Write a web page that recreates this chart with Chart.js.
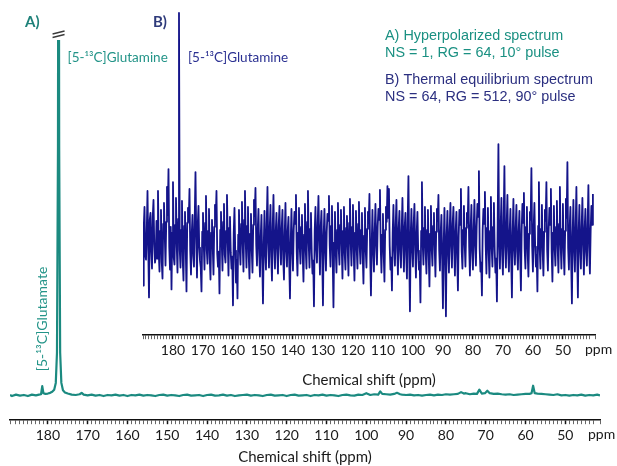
<!DOCTYPE html>
<html>
<head>
<meta charset="utf-8">
<script src="https://cdn.jsdelivr.net/npm/chart.js@4.4.1/dist/chart.umd.min.js"></script>
<style>
  html, body { margin: 0; padding: 0; background: #fff; }
  #wrap { position: relative; width: 617px; height: 466px; }
  #chartA { position: absolute; left: 0; top: 0; }
  #chartB { position: absolute; left: 130px; top: 0; }
</style>
</head>
<body>
<div id="wrap">
  <canvas id="chartA" width="617" height="466"></canvas>
  <canvas id="chartB" width="487" height="389"></canvas>
</div>
<script>
// Tick labels shown on both shift axes (ppm)
const ppmTicks = [180, 170, 160, 150, 140, 130, 120, 110, 100, 90, 80, 70, 60, 50];

// A) hyperpolarized spectrum: chemical shift (ppm) and intensity (a.u.)
const aShift = [
  189.5, 189, 188, 187, 186, 185, 184, 183, 182.2, 181.7,
  181.4, 181.1, 180.6, 180, 179.4, 178.9, 178.4, 178.0, 177.7, 177.45,
  177.3, 177.15, 176.9, 176.6, 176.2, 175.7, 175, 174, 173, 172,
  171.5, 171, 170, 169, 168, 167, 166, 165, 164, 163,
  162, 161, 160, 159, 158, 157, 156, 155, 154, 153,
  152, 151, 150, 149, 148, 147, 146, 145, 144, 143,
  142, 141, 140, 139, 138, 137, 136, 135, 134, 133,
  132, 131, 130, 129, 128, 127, 126, 125, 124, 123,
  122, 121, 120, 119, 118, 117, 116, 115, 114, 113,
  112, 111, 110, 109, 108, 107, 106, 105, 104, 103,
  102, 101, 100, 99, 98, 97, 96.5, 96, 95, 94,
  93, 92.3, 91.5, 91, 90, 89, 88, 87, 86, 85,
  84, 83, 82, 81, 80, 79, 78, 77, 76.2, 75.5,
  75, 74, 73, 72.2, 71.6, 71, 70.2, 69.6, 69, 68,
  67, 66, 65, 64, 63, 62, 61, 60, 59, 58.5,
  58.1, 57.7, 57, 56, 55, 54, 53, 52, 51, 50,
  49, 48, 47, 46, 45, 44, 43, 42, 41.3
];
const aIntensity = [
  0.1, -0.2, 0.2, -0.1, 0.1, -0.2, 0.2, 0.0, 0.2, 0.3,
  2.6, 0.6, 0.4, 0.5, 0.7, 1.0, 1.6, 3.5, 12, 70,
  200, 70, 12, 3.5, 1.4, 0.8, 0.5, 0.2, 0.1, 0.3,
  0.7, 0.2, 0.0, 0.2, -0.1, 0.1, -0.2, 0.1, 0.0, 0.2,
  -0.1, 0.1, -0.2, 0.1, 0.0, 0.2, -0.1, 0.1, 0.0, -0.2,
  0.1, 0.2, -0.1, 0.1, 0.0, -0.2, 0.1, 0.2, -0.1, 0.0,
  0.1, -0.2, 0.1, 0.2, -0.1, 0.0, 0.2, -0.1, 0.1, -0.2,
  0.0, 0.1, 0.2, -0.1, 0.1, 0.0, -0.2, 0.1, 0.2, -0.1,
  0.0, 0.1, -0.2, 0.1, 0.2, -0.1, 0.0, 0.1, -0.2, 0.1,
  0.0, 0.2, -0.1, 0.1, 0.0, -0.2, 0.1, 0.2, 0.0, -0.1,
  0.2, 0.1, 0.6, 0.1, 0.3, 0.2, 1.1, 0.4, 0.3, 0.2,
  0.4, 0.7, 0.3, 0.2, 0.1, 0.2, 0.0, 0.1, -0.1, 0.1,
  0.2, 0.0, 0.2, 0.1, 0.3, 0.2, 0.3, 0.4, 0.9, 0.5,
  0.6, 0.3, 0.5, 0.4, 1.6, 0.5, 0.6, 1.3, 0.6, 0.4,
  0.5, 0.3, 0.2, 0.3, 0.1, 0.2, 0.3, 0.4, 0.4, 0.6,
  2.7, 0.6, 0.5, 0.4, 0.3, 0.2, 0.1, 0.3, 0.0, 0.1,
  -0.1, 0.1, 0.0, 0.2, -0.1, 0.1, 0.0, 0.2, 0.0
];

// B) thermal equilibrium spectrum, sampled every 0.25 ppm from 190 ppm down to 40 ppm
const bStart = 190;
const bStep = 0.25;
const bIntensity = [
  -4.7, 1.1, 3.2, -1.6, -2.1, 0.7, 4.8, -0.9, -5.9, 1.9, 2.6, -1.3, -3.0, 2.2, 3.9, -0.6, -2.4, -1.8, 1.8, -2.0,
  4.8, -1.4, -3.3, 0.8, 2.9, -2.3, -4.0, 1.5, 3.6, 0.4, -2.7, 1.7, 5.2, 2.4, 7.0, -0.8, -3.1, 1.2, -5.1, 0.6,
  5.7, -1.9, -2.6, 1.4, 4.1, -0.7, -3.4, 2.0, 22.7, -1.1, -2.9, 0.9, 3.8, -2.2, -4.2, 1.3, 2.7, -1.0, -5.3, 1.6,
  3.1, 1.8, 5.0, -1.2, -3.6, 0.5, 2.4, -1.7, -2.8, 2.1, 6.7, 0.3, -3.9, 1.4, 3.3, -0.9, -2.2, -2.9, -5.3, 0.7,
  2.6, -0.5, -3.1, 1.6, 4.3, -1.1, -2.5, 0.8, 3.0, -1.9, -4.1, 0.6, 1.9, -0.8, -3.6, 1.2, 3.4, 2.0, 4.8, -1.5,
  -2.8, -1.3, -5.5, 0.9, 2.7, -0.4, -3.2, 1.7, 3.5, -1.6, -2.4, 0.8, 4.4, -0.2, -3.7, 1.1, 2.2, -1.4, -3.0, -1.8,
  -6.7, 0.6, 3.1, -1.2, -4.4, -2.1, -6.0, 0.4, 2.9, -1.0, -2.6, 1.5, 3.7, -0.7, -3.3, 1.9, 4.8, -0.3, -2.9, 1.3,
  3.2, -1.7, -4.0, 0.5, 2.5, -1.1, -3.4, 1.4, 3.9, 2.3, 5.1, -0.6, -2.7, 0.9, 3.0, -1.5, -3.8, 0.2, 2.4, -2.0,
  -6.5, -0.8, 2.8, -1.3, -3.1, 1.6, 5.2, -0.4, -2.9, 1.0, 3.4, -1.8, -4.2, 1.2, 4.4, -0.9, -3.0, 0.7, 2.6, -1.1,
  -3.5, 1.4, 3.3, -0.6, -2.6, 1.1, 2.9, -1.9, -4.1, 0.5, 3.6, -1.2, -2.8, 0.8, 2.2, -2.4, -6.0, -0.3, 3.0, -1.0,
  -3.2, 0.9, 2.7, 1.5, 4.4, -1.3, -3.7, 0.6, 3.1, -0.8, -2.5, 1.2, 2.4, -1.6, -4.3, 0.4, 3.5, -1.1, -3.0, 1.7,
  4.8, -0.5, -2.9, 1.0, 2.6, -1.4, -3.5, -2.2, -6.8, 0.8, 3.2, -0.9, -2.4, 1.6, 4.3, -0.3, -3.6, 1.2, 2.8, -1.7,
  -6.7, 0.5, 3.0, -1.1, -3.2, 0.7, 2.5, 1.8, 4.3, -0.6, -2.8, 1.3, 3.3, -2.0, -6.9, -0.4, 2.7, -1.2, -3.4, 0.9,
  3.6, -1.0, -2.6, 1.4, 2.9, -0.7, -4.0, 0.8, 3.2, -1.5, -3.1, 1.1, 2.3, -0.9, -3.7, 1.6, 4.0, -0.4, -2.7, 1.2,
  3.4, -1.3, -4.2, 0.6, 2.8, -1.0, -3.0, 1.5, 3.7, -0.8, -2.5, 0.9, 2.6, -1.7, -4.5, 0.3, 3.1, -1.1, -2.9, 1.0,
  2.7, 1.6, 4.5, -1.8, -5.7, -0.5, 2.9, -1.2, -3.3, 0.7, 3.5, -0.6, -2.6, 1.3, 3.0, 1.9, 4.9, -0.8, -3.4, 0.4,
  2.5, -1.5, -4.3, 0.9, 3.2, 1.7, 5.3, 2.1, 5.0, -0.7, -3.1, -1.9, -5.2, 0.6, 3.4, -1.0, -2.7, 1.4, 3.9, -0.9,
  -3.6, 1.1, 2.8, -1.3, -2.9, 0.8, 4.1, -0.5, -3.3, 1.2, 2.6, -1.6, -4.0, 1.9, 6.3, -1.4, -7.3, 0.3, 3.0, -1.0,
  -2.8, 1.5, 3.5, -0.9, -3.9, 0.6, 2.7, -1.2, -3.1, -2.3, -6.4, 0.8, 5.7, -0.4, -2.6, 1.1, 3.2, -1.4, -3.5, 0.9,
  2.9, -1.6, -4.8, 0.5, 3.3, -1.0, -2.7, 1.3, 2.6, -0.8, -3.8, 0.7, 3.0, 1.8, 4.4, -1.1, -3.2, 0.6, 2.4, -2.1,
  -7.0, -0.6, 3.1, -1.9, -7.8, 0.4, 2.8, -1.3, -3.4, 1.0, 3.6, -0.7, -2.9, 1.5, 3.2, -0.9, -3.7, 0.8, 2.7, -1.8,
  -5.2, 0.3, 2.9, 1.4, 5.0, -1.2, -3.0, 0.9, 3.3, -0.5, -2.8, 1.1, 2.6, 1.6, 5.2, -0.8, -3.7, 1.2, 3.4, -1.4,
  -3.1, 1.0, 3.9, -0.7, -2.7, 1.3, 3.5, 2.2, 6.8, -1.0, -3.3, -2.4, -5.7, 0.9, 3.0, 1.5, 4.7, -0.6, -3.5, 1.1,
  3.1, -1.4, -3.9, 0.8, 4.2, -0.9, -2.8, 1.2, 3.6, -1.1, -3.4, -2.0, -6.3, 1.7, 9.5, -0.5, -3.0, 1.3, 4.1, -1.6,
  -3.6, 2.0, 7.3, -0.8, -2.9, 1.4, 4.4, -1.2, -3.3, 0.7, 3.0, -1.9, -5.9, 0.6, 4.0, -0.9, -2.6, 1.1, 3.4, -1.3,
  -3.1, 0.8, 2.8, -1.7, -5.2, 0.9, 3.5, 1.6, 4.6, -1.0, -3.0, 1.2, 3.2, -1.4, -3.8, 0.5, 2.7, 1.9, 7.1, -0.7,
  -3.3, 1.1, 3.6, -0.8, -2.8, -1.6, -5.3, 1.3, 5.7, -0.9, -3.0, 1.0, 3.4, -1.2, -3.7, 0.7, 2.9, 1.8, 5.7, -1.1,
  -3.2, 0.9, 3.1, 1.4, 5.0, -1.3, -4.3, 0.6, 3.3, -1.0, -2.7, 1.2, 3.8, -0.8, -3.4, 1.5, 5.2, -0.6, -3.0, 1.0,
  3.5, -1.2, -3.6, 0.8, 4.0, 2.1, 7.7, -0.9, -3.1, 1.1, 3.2, -2.2, -6.5, 0.5, 3.9, -1.0, -3.3, 1.3, 5.2, -1.5,
  -5.9, 0.7, 3.4, -1.1, -3.0, 1.2, 4.1, -0.6, -3.6, 1.0, 3.0, -1.3, -2.7, 1.6, 5.4, -0.9, -3.5, 0.8, 3.3, 1.4, 4.5
];

// peak positions used to anchor the labels
const glnShiftA = 177.3;
const glnShiftB = 178;
const gluShiftA = 181.4;

const teal = '#1b8a80';
const tealText = '#239488';
const navy = '#14148a';
const navyText = '#2b2f80';

Chart.defaults.font.family = "Lato, 'Open Sans', sans-serif";
Chart.defaults.color = '#222';

function shiftAxis(min, max, title, titlePad) {
  return {
    type: 'linear',
    reverse: true,
    min: min,
    max: max,
    border: { display: true, color: '#111', width: 1.5 },
    grid: {
      drawOnChartArea: false,
      drawTicks: true,
      tickLength: 4,
      tickColor: ctx => ppmTicks.includes(ctx.tick.value) ? '#111' : '#666',
      tickWidth: ctx => ppmTicks.includes(ctx.tick.value) ? 1.5 : 1
    },
    ticks: {
      stepSize: 1,
      autoSkip: false,
      maxRotation: 0,
      minRotation: 0,
      padding: 3,
      color: '#1a1a1a',
      font: { size: 14 },
      callback: v => ppmTicks.includes(v) ? String(v) : ''
    },
    title: {
      display: true,
      text: title,
      color: '#1a1a1a',
      font: { size: 15 },
      padding: { top: titlePad, bottom: 0 }
    }
  };
}

function drawPpm(chart, dx) {
  const { ctx, chartArea } = chart;
  ctx.save();
  ctx.font = "14px Lato, 'Open Sans', sans-serif";
  ctx.fillStyle = '#1a1a1a';
  ctx.textAlign = 'left';
  ctx.textBaseline = 'top';
  ctx.fillText('ppm', chartArea.right - dx, chartArea.bottom + 7);
  ctx.restore();
}

const annotateA = {
  id: 'annotateA',
  afterDraw(chart) {
    const { ctx, chartArea, scales } = chart;
    const px = scales.x.getPixelForValue(glnShiftA);
    const top = chartArea.top;
    ctx.save();
    // break marks on the truncated peak
    ctx.strokeStyle = '#3a3a3a';
    ctx.lineWidth = 1.4;
    ctx.beginPath();
    ctx.moveTo(px - 6, top - 6); ctx.lineTo(px + 6, top - 9);
    ctx.moveTo(px - 6, top - 2.5); ctx.lineTo(px + 6, top - 5.5);
    ctx.stroke();

    ctx.textBaseline = 'middle';
    ctx.fillStyle = '#1e8179';
    ctx.font = "bold 15px Lato, sans-serif";
    ctx.textAlign = 'left';
    ctx.fillText('A)', 25, 22);

    ctx.fillStyle = tealText;
    ctx.font = "13.5px Lato, sans-serif";
    ctx.fillText('[5-\u00b9\u00b3C]Glutamine', px + 9, 58);

    // rotated glutamate label
    const gx = scales.x.getPixelForValue(gluShiftA);
    ctx.save();
    ctx.translate(gx, 319);
    ctx.rotate(-Math.PI / 2);
    ctx.textAlign = 'center';
    ctx.font = "14px Lato, sans-serif";
    ctx.fillText('[5-\u00b9\u00b3C]Glutamate', 0, 0);
    ctx.restore();

    // acquisition notes
    ctx.font = "14.4px 'Liberation Sans', Arial, sans-serif";
    ctx.textAlign = 'left';
    ctx.fillStyle = '#1a9082';
    ctx.fillText('A) Hyperpolarized spectrum', 385, 36);
    ctx.fillText('NS = 1, RG = 64, 10\u00b0 pulse', 385, 53);
    ctx.fillStyle = navyText;
    ctx.fillText('B) Thermal equilibrium spectrum', 385, 80);
    ctx.fillText('NS = 64, RG = 512, 90\u00b0 pulse', 385, 97);
    ctx.restore();

    drawPpm(chart, 12);
  }
};

const annotateB = {
  id: 'annotateB',
  afterDraw(chart) {
    const { ctx, scales } = chart;
    const px = scales.x.getPixelForValue(glnShiftB);
    ctx.save();
    ctx.textBaseline = 'middle';
    ctx.textAlign = 'left';
    ctx.fillStyle = '#2e3a7a';
    ctx.font = "bold 15px Lato, sans-serif";
    ctx.fillText('B)', px - 26, 22);
    ctx.fillStyle = '#2b3192';
    ctx.font = "13.5px Lato, sans-serif";
    ctx.fillText('[5-\u00b9\u00b3C]Glutamine', px + 9, 58);
    ctx.restore();

    drawPpm(chart, 10);
  }
};

new Chart(document.getElementById('chartA'), {
  type: 'line',
  data: {
    datasets: [{
      data: aShift.map((s, i) => ({ x: s, y: aIntensity[i] })),
      borderColor: teal,
      borderWidth: 2.2,
      pointRadius: 0,
      tension: 0,
      fill: false,
      borderJoinStyle: 'round'
    }]
  },
  options: {
    responsive: false,
    animation: false,
    events: [],
    layout: { padding: { left: 10, right: 17, top: 40, bottom: 0 } },
    plugins: { legend: { display: false }, tooltip: { enabled: false } },
    scales: {
      x: shiftAxis(41.3, 189.5, 'Chemical shift (ppm)', 1),
      y: { display: false, min: -7, max: 100 }
    }
  },
  plugins: [annotateA]
});

new Chart(document.getElementById('chartB'), {
  type: 'line',
  data: {
    datasets: [{
      data: bIntensity.map((v, i) => ({ x: bStart - bStep * i, y: v })),
      borderColor: navy,
      borderWidth: 1.8,
      pointRadius: 0,
      tension: 0,
      fill: false,
      borderJoinStyle: 'round'
    }]
  },
  options: {
    responsive: false,
    animation: false,
    events: [],
    layout: { padding: { left: 13, right: 22, top: 10, bottom: 0 } },
    plugins: { legend: { display: false }, tooltip: { enabled: false } },
    scales: {
      x: shiftAxis(39.3, 190, 'Chemical shift (ppm)', 9),
      y: { display: false, min: -9.7, max: 23 }
    }
  },
  plugins: [annotateB]
});
</script>
</body>
</html>
